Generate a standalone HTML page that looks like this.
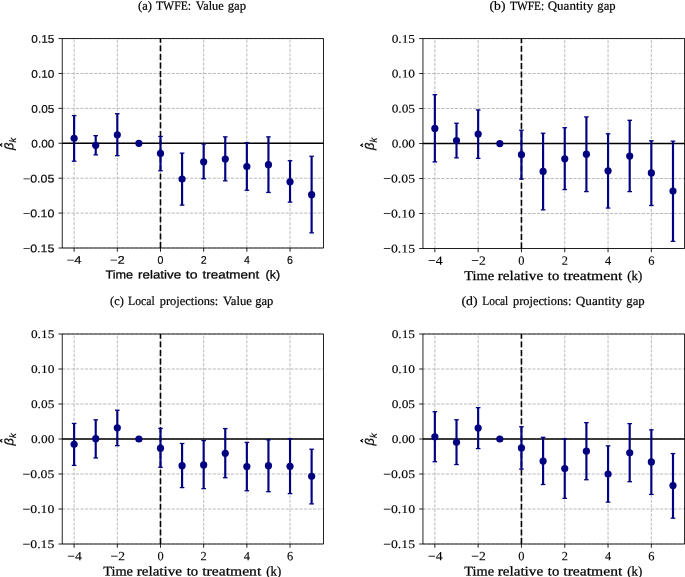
<!DOCTYPE html>
<html><head><meta charset="utf-8"><style>
html,body{margin:0;padding:0;background:#fff;overflow:hidden;width:685px;height:577px;}
svg{display:block;}
text{filter:grayscale(1);}
.grid{stroke:#b0b0b0;stroke-width:0.86;stroke-dasharray:3.18 1.38;fill:none;}
.zero{stroke:#000;stroke-width:1.6;}
.vl{stroke:#000;stroke-width:1.6;stroke-dasharray:5.97 2.58;}
.eb{stroke:#000080;stroke-width:2.16;}
.cap{stroke:#000080;stroke-width:1.3;}
.spine{fill:none;stroke:#000;stroke-width:0.86;}
.tick{stroke:#000;stroke-width:0.86;}
.tl{font-family:"Liberation Sans",sans-serif;font-size:11px;fill:#000;stroke:#000;stroke-width:0.15px;}
.ts{font-family:"Liberation Serif",serif;font-size:11.8px;fill:#000;stroke:#000;stroke-width:0.12px;}
.xls{font-size:13.3px;stroke-width:0.25px;}
.xl{font-size:11.6px;stroke-width:0.25px;}
.yl text{font-family:"Liberation Sans",sans-serif;fill:#000;stroke:#000;stroke-width:0.2px;}
.xts{font-size:12.6px;}
.title{font-family:"Liberation Serif",serif;font-size:12.5px;fill:#000;stroke:#000;stroke-width:0.2px;}
</style></head><body>
<svg width="685" height="577" viewBox="0 0 685 577">
<rect width="685" height="577" fill="#fff"/>
<line x1="74.12" y1="248" x2="74.12" y2="38.55" class="grid"/>
<line x1="117.31" y1="248" x2="117.31" y2="38.55" class="grid"/>
<line x1="160.49" y1="248" x2="160.49" y2="38.55" class="grid"/>
<line x1="203.67" y1="248" x2="203.67" y2="38.55" class="grid"/>
<line x1="246.85" y1="248" x2="246.85" y2="38.55" class="grid"/>
<line x1="290.03" y1="248" x2="290.03" y2="38.55" class="grid"/>
<line x1="62.25" y1="248" x2="323.5" y2="248" class="grid"/>
<line x1="62.25" y1="213.09" x2="323.5" y2="213.09" class="grid"/>
<line x1="62.25" y1="178.18" x2="323.5" y2="178.18" class="grid"/>
<line x1="62.25" y1="143.28" x2="323.5" y2="143.28" class="grid"/>
<line x1="62.25" y1="108.37" x2="323.5" y2="108.37" class="grid"/>
<line x1="62.25" y1="73.46" x2="323.5" y2="73.46" class="grid"/>
<line x1="62.25" y1="38.55" x2="323.5" y2="38.55" class="grid"/>
<line x1="62.25" y1="143.28" x2="323.5" y2="143.28" class="zero"/>
<line x1="160.49" y1="248" x2="160.49" y2="38.55" class="vl"/>
<line x1="74.12" y1="161.22" x2="74.12" y2="115.56" class="eb"/>
<line x1="71.83" y1="161.22" x2="76.42" y2="161.22" class="cap"/>
<line x1="71.83" y1="115.56" x2="76.42" y2="115.56" class="cap"/>
<line x1="95.72" y1="154.86" x2="95.72" y2="135.66" class="eb"/>
<line x1="93.42" y1="154.86" x2="98.02" y2="154.86" class="cap"/>
<line x1="93.42" y1="135.66" x2="98.02" y2="135.66" class="cap"/>
<line x1="117.31" y1="155.63" x2="117.31" y2="113.74" class="eb"/>
<line x1="115.01" y1="155.63" x2="119.61" y2="155.63" class="cap"/>
<line x1="115.01" y1="113.74" x2="119.61" y2="113.74" class="cap"/>
<line x1="160.49" y1="170.78" x2="160.49" y2="136.43" class="eb"/>
<line x1="158.19" y1="170.78" x2="162.79" y2="170.78" class="cap"/>
<line x1="158.19" y1="136.43" x2="162.79" y2="136.43" class="cap"/>
<line x1="182.08" y1="205.13" x2="182.08" y2="153.12" class="eb"/>
<line x1="179.78" y1="205.13" x2="184.38" y2="205.13" class="cap"/>
<line x1="179.78" y1="153.12" x2="184.38" y2="153.12" class="cap"/>
<line x1="203.67" y1="178.74" x2="203.67" y2="144.04" class="eb"/>
<line x1="201.37" y1="178.74" x2="205.97" y2="178.74" class="cap"/>
<line x1="201.37" y1="144.04" x2="205.97" y2="144.04" class="cap"/>
<line x1="225.26" y1="180.84" x2="225.26" y2="136.85" class="eb"/>
<line x1="222.96" y1="180.84" x2="227.56" y2="180.84" class="cap"/>
<line x1="222.96" y1="136.85" x2="227.56" y2="136.85" class="cap"/>
<line x1="246.85" y1="190.26" x2="246.85" y2="142.65" class="eb"/>
<line x1="244.55" y1="190.26" x2="249.15" y2="190.26" class="cap"/>
<line x1="244.55" y1="142.65" x2="249.15" y2="142.65" class="cap"/>
<line x1="268.44" y1="192.43" x2="268.44" y2="136.85" class="eb"/>
<line x1="266.14" y1="192.43" x2="270.74" y2="192.43" class="cap"/>
<line x1="266.14" y1="136.85" x2="270.74" y2="136.85" class="cap"/>
<line x1="290.03" y1="202.13" x2="290.03" y2="160.73" class="eb"/>
<line x1="287.73" y1="202.13" x2="292.33" y2="202.13" class="cap"/>
<line x1="287.73" y1="160.73" x2="292.33" y2="160.73" class="cap"/>
<line x1="311.62" y1="232.85" x2="311.62" y2="156.26" class="eb"/>
<line x1="309.32" y1="232.85" x2="313.93" y2="232.85" class="cap"/>
<line x1="309.32" y1="156.26" x2="313.93" y2="156.26" class="cap"/>
<circle cx="74.12" cy="138.25" r="3.6" fill="#000080"/>
<circle cx="95.72" cy="145.3" r="3.6" fill="#000080"/>
<circle cx="117.31" cy="134.76" r="3.6" fill="#000080"/>
<circle cx="138.9" cy="143.28" r="3.6" fill="#000080"/>
<circle cx="160.49" cy="153.47" r="3.6" fill="#000080"/>
<circle cx="182.08" cy="179.02" r="3.6" fill="#000080"/>
<circle cx="203.67" cy="161.78" r="3.6" fill="#000080"/>
<circle cx="225.26" cy="158.98" r="3.6" fill="#000080"/>
<circle cx="246.85" cy="166.52" r="3.6" fill="#000080"/>
<circle cx="268.44" cy="164.71" r="3.6" fill="#000080"/>
<circle cx="290.03" cy="181.74" r="3.6" fill="#000080"/>
<circle cx="311.62" cy="194.66" r="3.6" fill="#000080"/>
<path d="M62.25,38.55H323.5M62.25,248H323.5M62.25,38.55V248M323.5,38.55V248" class="spine"/>
<line x1="74.12" y1="248" x2="74.12" y2="251.76" class="tick"/>
<text x="74.12" y="263.8" text-anchor="middle" class="tl" textLength="14.8" lengthAdjust="spacingAndGlyphs" transform="rotate(0.03 74.12 263.8)">−4</text>
<line x1="117.31" y1="248" x2="117.31" y2="251.76" class="tick"/>
<text x="117.31" y="263.8" text-anchor="middle" class="tl" textLength="14.8" lengthAdjust="spacingAndGlyphs" transform="rotate(0.03 117.31 263.8)">−2</text>
<line x1="160.49" y1="248" x2="160.49" y2="251.76" class="tick"/>
<text x="160.49" y="263.8" text-anchor="middle" class="tl" textLength="5.9" lengthAdjust="spacingAndGlyphs" transform="rotate(0.03 160.49 263.8)">0</text>
<line x1="203.67" y1="248" x2="203.67" y2="251.76" class="tick"/>
<text x="203.67" y="263.8" text-anchor="middle" class="tl" textLength="5.9" lengthAdjust="spacingAndGlyphs" transform="rotate(0.03 203.67 263.8)">2</text>
<line x1="246.85" y1="248" x2="246.85" y2="251.76" class="tick"/>
<text x="246.85" y="263.8" text-anchor="middle" class="tl" textLength="5.9" lengthAdjust="spacingAndGlyphs" transform="rotate(0.03 246.85 263.8)">4</text>
<line x1="290.03" y1="248" x2="290.03" y2="251.76" class="tick"/>
<text x="290.03" y="263.8" text-anchor="middle" class="tl" textLength="5.9" lengthAdjust="spacingAndGlyphs" transform="rotate(0.03 290.03 263.8)">6</text>
<line x1="58.49" y1="248" x2="62.25" y2="248" class="tick"/>
<text x="54.35" y="252.3" text-anchor="end" class="tl" textLength="31.4" lengthAdjust="spacingAndGlyphs" transform="rotate(0.03 54.35 252.3)">−0.15</text>
<line x1="58.49" y1="213.09" x2="62.25" y2="213.09" class="tick"/>
<text x="54.35" y="217.39" text-anchor="end" class="tl" textLength="31.4" lengthAdjust="spacingAndGlyphs" transform="rotate(0.03 54.35 217.39)">−0.10</text>
<line x1="58.49" y1="178.18" x2="62.25" y2="178.18" class="tick"/>
<text x="54.35" y="182.48" text-anchor="end" class="tl" textLength="31.4" lengthAdjust="spacingAndGlyphs" transform="rotate(0.03 54.35 182.48)">−0.05</text>
<line x1="58.49" y1="143.28" x2="62.25" y2="143.28" class="tick"/>
<text x="54.35" y="147.58" text-anchor="end" class="tl" textLength="23" lengthAdjust="spacingAndGlyphs" transform="rotate(0.03 54.35 147.58)">0.00</text>
<line x1="58.49" y1="108.37" x2="62.25" y2="108.37" class="tick"/>
<text x="54.35" y="112.67" text-anchor="end" class="tl" textLength="23" lengthAdjust="spacingAndGlyphs" transform="rotate(0.03 54.35 112.67)">0.05</text>
<line x1="58.49" y1="73.46" x2="62.25" y2="73.46" class="tick"/>
<text x="54.35" y="77.76" text-anchor="end" class="tl" textLength="23" lengthAdjust="spacingAndGlyphs" transform="rotate(0.03 54.35 77.76)">0.10</text>
<line x1="58.49" y1="38.55" x2="62.25" y2="38.55" class="tick"/>
<text x="54.35" y="42.85" text-anchor="end" class="tl" textLength="23" lengthAdjust="spacingAndGlyphs" transform="rotate(0.03 54.35 42.85)">0.15</text>
<text x="105.47" y="278.6" class="tl xl" textLength="27.7" lengthAdjust="spacingAndGlyphs" transform="rotate(0.03 105.47 278.6)">Time</text>
<text x="138.07" y="278.6" class="tl xl" textLength="43" lengthAdjust="spacingAndGlyphs" transform="rotate(0.03 138.07 278.6)">relative</text>
<text x="185.88" y="278.6" class="tl xl" textLength="11.7" lengthAdjust="spacingAndGlyphs" transform="rotate(0.03 185.88 278.6)">to</text>
<text x="202.47" y="278.6" class="tl xl" textLength="56.8" lengthAdjust="spacingAndGlyphs" transform="rotate(0.03 202.47 278.6)">treatment</text>
<text x="265.57" y="278.6" class="tl xl" textLength="14.6" lengthAdjust="spacingAndGlyphs" transform="rotate(0.03 265.57 278.6)">(k)</text>
<g transform="translate(13.15,149.88) rotate(-89.97)" class="yl"><text x="0" y="0" style="font-size:12.4px;font-style:italic" textLength="7.4" lengthAdjust="spacingAndGlyphs">β</text><text x="7.5" y="2.9" style="font-size:9.6px;font-style:italic">k</text></g>
<path d="M2.25,146.47 L0.15,144.97 L2.25,143.47" fill="none" stroke="#000" stroke-width="1.15"/>
<text x="138.07" y="9.65" class="title" textLength="14" lengthAdjust="spacingAndGlyphs" transform="rotate(0.03 138.07 9.65)">(a)</text>
<text x="155.97" y="9.65" class="title" textLength="35.1" lengthAdjust="spacingAndGlyphs" transform="rotate(0.03 155.97 9.65)">TWFE:</text>
<text x="195.68" y="9.65" class="title" textLength="28" lengthAdjust="spacingAndGlyphs" transform="rotate(0.03 195.68 9.65)">Value</text>
<text x="227.68" y="9.65" class="title" textLength="18.4" lengthAdjust="spacingAndGlyphs" transform="rotate(0.03 227.68 9.65)">gap</text>
<line x1="434.86" y1="248.5" x2="434.86" y2="38.55" class="grid"/>
<line x1="478.15" y1="248.5" x2="478.15" y2="38.55" class="grid"/>
<line x1="521.45" y1="248.5" x2="521.45" y2="38.55" class="grid"/>
<line x1="564.75" y1="248.5" x2="564.75" y2="38.55" class="grid"/>
<line x1="608.05" y1="248.5" x2="608.05" y2="38.55" class="grid"/>
<line x1="651.34" y1="248.5" x2="651.34" y2="38.55" class="grid"/>
<line x1="422.95" y1="248.5" x2="684.9" y2="248.5" class="grid"/>
<line x1="422.95" y1="213.51" x2="684.9" y2="213.51" class="grid"/>
<line x1="422.95" y1="178.52" x2="684.9" y2="178.52" class="grid"/>
<line x1="422.95" y1="143.53" x2="684.9" y2="143.53" class="grid"/>
<line x1="422.95" y1="108.53" x2="684.9" y2="108.53" class="grid"/>
<line x1="422.95" y1="73.54" x2="684.9" y2="73.54" class="grid"/>
<line x1="422.95" y1="38.55" x2="684.9" y2="38.55" class="grid"/>
<line x1="422.95" y1="143.53" x2="684.9" y2="143.53" class="zero"/>
<line x1="521.45" y1="248.5" x2="521.45" y2="38.55" class="vl"/>
<line x1="434.86" y1="161.93" x2="434.86" y2="94.68" class="eb"/>
<line x1="432.56" y1="161.93" x2="437.16" y2="161.93" class="cap"/>
<line x1="432.56" y1="94.68" x2="437.16" y2="94.68" class="cap"/>
<line x1="456.51" y1="157.87" x2="456.51" y2="123.23" class="eb"/>
<line x1="454.21" y1="157.87" x2="458.81" y2="157.87" class="cap"/>
<line x1="454.21" y1="123.23" x2="458.81" y2="123.23" class="cap"/>
<line x1="478.15" y1="158.36" x2="478.15" y2="109.93" class="eb"/>
<line x1="475.85" y1="158.36" x2="480.45" y2="158.36" class="cap"/>
<line x1="475.85" y1="109.93" x2="480.45" y2="109.93" class="cap"/>
<line x1="521.45" y1="179.01" x2="521.45" y2="130.23" class="eb"/>
<line x1="519.15" y1="179.01" x2="523.75" y2="179.01" class="cap"/>
<line x1="519.15" y1="130.23" x2="523.75" y2="130.23" class="cap"/>
<line x1="543.1" y1="209.87" x2="543.1" y2="133.24" class="eb"/>
<line x1="540.8" y1="209.87" x2="545.4" y2="209.87" class="cap"/>
<line x1="540.8" y1="133.24" x2="545.4" y2="133.24" class="cap"/>
<line x1="564.75" y1="189.57" x2="564.75" y2="127.71" class="eb"/>
<line x1="562.45" y1="189.57" x2="567.05" y2="189.57" class="cap"/>
<line x1="562.45" y1="127.71" x2="567.05" y2="127.71" class="cap"/>
<line x1="586.4" y1="191.6" x2="586.4" y2="116.93" class="eb"/>
<line x1="584.1" y1="191.6" x2="588.7" y2="191.6" class="cap"/>
<line x1="584.1" y1="116.93" x2="588.7" y2="116.93" class="cap"/>
<line x1="608.05" y1="208.05" x2="608.05" y2="133.8" class="eb"/>
<line x1="605.75" y1="208.05" x2="610.35" y2="208.05" class="cap"/>
<line x1="605.75" y1="133.8" x2="610.35" y2="133.8" class="cap"/>
<line x1="629.7" y1="191.6" x2="629.7" y2="120.29" class="eb"/>
<line x1="627.4" y1="191.6" x2="632" y2="191.6" class="cap"/>
<line x1="627.4" y1="120.29" x2="632" y2="120.29" class="cap"/>
<line x1="651.34" y1="205.46" x2="651.34" y2="140.8" class="eb"/>
<line x1="649.04" y1="205.46" x2="653.64" y2="205.46" class="cap"/>
<line x1="649.04" y1="140.8" x2="653.64" y2="140.8" class="cap"/>
<line x1="672.99" y1="241.36" x2="672.99" y2="141.15" class="eb"/>
<line x1="670.69" y1="241.36" x2="675.29" y2="241.36" class="cap"/>
<line x1="670.69" y1="141.15" x2="675.29" y2="141.15" class="cap"/>
<circle cx="434.86" cy="128.41" r="3.6" fill="#000080"/>
<circle cx="456.51" cy="140.52" r="3.6" fill="#000080"/>
<circle cx="478.15" cy="134.08" r="3.6" fill="#000080"/>
<circle cx="499.8" cy="143.53" r="3.6" fill="#000080"/>
<circle cx="521.45" cy="154.65" r="3.6" fill="#000080"/>
<circle cx="543.1" cy="171.45" r="3.6" fill="#000080"/>
<circle cx="564.75" cy="158.78" r="3.6" fill="#000080"/>
<circle cx="586.4" cy="154.16" r="3.6" fill="#000080"/>
<circle cx="608.05" cy="170.82" r="3.6" fill="#000080"/>
<circle cx="629.7" cy="155.98" r="3.6" fill="#000080"/>
<circle cx="651.34" cy="172.92" r="3.6" fill="#000080"/>
<circle cx="672.99" cy="191.11" r="3.6" fill="#000080"/>
<path d="M422.95,38.55H684.55M422.95,248.5H684.55M422.95,38.55V248.5M684.55,38.55V248.5" class="spine"/>
<line x1="434.86" y1="248.5" x2="434.86" y2="252.26" class="tick"/>
<text x="435.26" y="264.7" text-anchor="middle" class="ts xts" textLength="14.5" lengthAdjust="spacingAndGlyphs" transform="rotate(0.03 435.26 264.7)">−4</text>
<line x1="478.15" y1="248.5" x2="478.15" y2="252.26" class="tick"/>
<text x="478.55" y="264.7" text-anchor="middle" class="ts xts" textLength="14.5" lengthAdjust="spacingAndGlyphs" transform="rotate(0.03 478.55 264.7)">−2</text>
<line x1="521.45" y1="248.5" x2="521.45" y2="252.26" class="tick"/>
<text x="521.45" y="264.7" text-anchor="middle" class="ts xts" textLength="6.2" lengthAdjust="spacingAndGlyphs" transform="rotate(0.03 521.45 264.7)">0</text>
<line x1="564.75" y1="248.5" x2="564.75" y2="252.26" class="tick"/>
<text x="564.75" y="264.7" text-anchor="middle" class="ts xts" textLength="6.2" lengthAdjust="spacingAndGlyphs" transform="rotate(0.03 564.75 264.7)">2</text>
<line x1="608.05" y1="248.5" x2="608.05" y2="252.26" class="tick"/>
<text x="608.05" y="264.7" text-anchor="middle" class="ts xts" textLength="6.2" lengthAdjust="spacingAndGlyphs" transform="rotate(0.03 608.05 264.7)">4</text>
<line x1="651.34" y1="248.5" x2="651.34" y2="252.26" class="tick"/>
<text x="651.34" y="264.7" text-anchor="middle" class="ts xts" textLength="6.2" lengthAdjust="spacingAndGlyphs" transform="rotate(0.03 651.34 264.7)">6</text>
<line x1="419.19" y1="248.5" x2="422.95" y2="248.5" class="tick"/>
<text x="415.05" y="252.6" text-anchor="end" class="ts" textLength="31.8" lengthAdjust="spacingAndGlyphs" transform="rotate(0.03 415.05 252.6)">−0.15</text>
<line x1="419.19" y1="213.51" x2="422.95" y2="213.51" class="tick"/>
<text x="415.05" y="217.61" text-anchor="end" class="ts" textLength="31.8" lengthAdjust="spacingAndGlyphs" transform="rotate(0.03 415.05 217.61)">−0.10</text>
<line x1="419.19" y1="178.52" x2="422.95" y2="178.52" class="tick"/>
<text x="415.05" y="182.62" text-anchor="end" class="ts" textLength="31.8" lengthAdjust="spacingAndGlyphs" transform="rotate(0.03 415.05 182.62)">−0.05</text>
<line x1="419.19" y1="143.53" x2="422.95" y2="143.53" class="tick"/>
<text x="415.05" y="147.62" text-anchor="end" class="ts" textLength="23.4" lengthAdjust="spacingAndGlyphs" transform="rotate(0.03 415.05 147.62)">0.00</text>
<line x1="419.19" y1="108.53" x2="422.95" y2="108.53" class="tick"/>
<text x="415.05" y="112.63" text-anchor="end" class="ts" textLength="23.4" lengthAdjust="spacingAndGlyphs" transform="rotate(0.03 415.05 112.63)">0.05</text>
<line x1="419.19" y1="73.54" x2="422.95" y2="73.54" class="tick"/>
<text x="415.05" y="77.64" text-anchor="end" class="ts" textLength="23.4" lengthAdjust="spacingAndGlyphs" transform="rotate(0.03 415.05 77.64)">0.10</text>
<line x1="419.19" y1="38.55" x2="422.95" y2="38.55" class="tick"/>
<text x="415.05" y="42.65" text-anchor="end" class="ts" textLength="23.4" lengthAdjust="spacingAndGlyphs" transform="rotate(0.03 415.05 42.65)">0.15</text>
<text x="464.22" y="279.95" class="ts xls" textLength="29.8" lengthAdjust="spacingAndGlyphs" transform="rotate(0.03 464.22 279.95)">Time</text>
<text x="497.72" y="279.95" class="ts xls" textLength="45.4" lengthAdjust="spacingAndGlyphs" transform="rotate(0.03 497.72 279.95)">relative</text>
<text x="547.82" y="279.95" class="ts xls" textLength="11.4" lengthAdjust="spacingAndGlyphs" transform="rotate(0.03 547.82 279.95)">to</text>
<text x="563.32" y="279.95" class="ts xls" textLength="59" lengthAdjust="spacingAndGlyphs" transform="rotate(0.03 563.32 279.95)">treatment</text>
<text x="627.32" y="279.95" class="ts xls" textLength="14.9" lengthAdjust="spacingAndGlyphs" transform="rotate(0.03 627.32 279.95)">(k)</text>
<g transform="translate(373.85,150.12) rotate(-89.97)" class="yl"><text x="0" y="0" style="font-size:12.4px;font-style:italic" textLength="7.4" lengthAdjust="spacingAndGlyphs">β</text><text x="7.5" y="2.9" style="font-size:9.6px;font-style:italic">k</text></g>
<path d="M362.95,146.72 L360.85,145.22 L362.95,143.72" fill="none" stroke="#000" stroke-width="1.15"/>
<text x="489.62" y="9.65" class="title" textLength="15.8" lengthAdjust="spacingAndGlyphs" transform="rotate(0.03 489.62 9.65)">(b)</text>
<text x="510.02" y="9.65" class="title" textLength="34.2" lengthAdjust="spacingAndGlyphs" transform="rotate(0.03 510.02 9.65)">TWFE:</text>
<text x="547.72" y="9.65" class="title" textLength="45.5" lengthAdjust="spacingAndGlyphs" transform="rotate(0.03 547.72 9.65)">Quantity</text>
<text x="597.32" y="9.65" class="title" textLength="18.3" lengthAdjust="spacingAndGlyphs" transform="rotate(0.03 597.32 9.65)">gap</text>
<line x1="74.12" y1="544" x2="74.12" y2="334" class="grid"/>
<line x1="117.31" y1="544" x2="117.31" y2="334" class="grid"/>
<line x1="160.49" y1="544" x2="160.49" y2="334" class="grid"/>
<line x1="203.67" y1="544" x2="203.67" y2="334" class="grid"/>
<line x1="246.85" y1="544" x2="246.85" y2="334" class="grid"/>
<line x1="290.03" y1="544" x2="290.03" y2="334" class="grid"/>
<line x1="62.25" y1="544" x2="323.5" y2="544" class="grid"/>
<line x1="62.25" y1="509" x2="323.5" y2="509" class="grid"/>
<line x1="62.25" y1="474" x2="323.5" y2="474" class="grid"/>
<line x1="62.25" y1="439" x2="323.5" y2="439" class="grid"/>
<line x1="62.25" y1="404" x2="323.5" y2="404" class="grid"/>
<line x1="62.25" y1="369" x2="323.5" y2="369" class="grid"/>
<line x1="62.25" y1="334" x2="323.5" y2="334" class="grid"/>
<line x1="62.25" y1="439" x2="323.5" y2="439" class="zero"/>
<line x1="160.49" y1="544" x2="160.49" y2="334" class="vl"/>
<line x1="74.12" y1="465.39" x2="74.12" y2="423.46" class="eb"/>
<line x1="71.83" y1="465.39" x2="76.42" y2="465.39" class="cap"/>
<line x1="71.83" y1="423.46" x2="76.42" y2="423.46" class="cap"/>
<line x1="95.72" y1="457.97" x2="95.72" y2="419.82" class="eb"/>
<line x1="93.42" y1="457.97" x2="98.02" y2="457.97" class="cap"/>
<line x1="93.42" y1="419.82" x2="98.02" y2="419.82" class="cap"/>
<line x1="117.31" y1="445.65" x2="117.31" y2="410.23" class="eb"/>
<line x1="115.01" y1="445.65" x2="119.61" y2="445.65" class="cap"/>
<line x1="115.01" y1="410.23" x2="119.61" y2="410.23" class="cap"/>
<line x1="160.49" y1="467.28" x2="160.49" y2="428.43" class="eb"/>
<line x1="158.19" y1="467.28" x2="162.79" y2="467.28" class="cap"/>
<line x1="158.19" y1="428.43" x2="162.79" y2="428.43" class="cap"/>
<line x1="182.08" y1="487.58" x2="182.08" y2="443.48" class="eb"/>
<line x1="179.78" y1="487.58" x2="184.38" y2="487.58" class="cap"/>
<line x1="179.78" y1="443.48" x2="184.38" y2="443.48" class="cap"/>
<line x1="203.67" y1="488.63" x2="203.67" y2="440.54" class="eb"/>
<line x1="201.37" y1="488.63" x2="205.97" y2="488.63" class="cap"/>
<line x1="201.37" y1="440.54" x2="205.97" y2="440.54" class="cap"/>
<line x1="225.26" y1="477.71" x2="225.26" y2="428.57" class="eb"/>
<line x1="222.96" y1="477.71" x2="227.56" y2="477.71" class="cap"/>
<line x1="222.96" y1="428.57" x2="227.56" y2="428.57" class="cap"/>
<line x1="246.85" y1="490.73" x2="246.85" y2="442.43" class="eb"/>
<line x1="244.55" y1="490.73" x2="249.15" y2="490.73" class="cap"/>
<line x1="244.55" y1="442.43" x2="249.15" y2="442.43" class="cap"/>
<line x1="268.44" y1="491.71" x2="268.44" y2="439.84" class="eb"/>
<line x1="266.14" y1="491.71" x2="270.74" y2="491.71" class="cap"/>
<line x1="266.14" y1="439.84" x2="270.74" y2="439.84" class="cap"/>
<line x1="290.03" y1="493.6" x2="290.03" y2="438.79" class="eb"/>
<line x1="287.73" y1="493.6" x2="292.33" y2="493.6" class="cap"/>
<line x1="287.73" y1="438.79" x2="292.33" y2="438.79" class="cap"/>
<line x1="311.62" y1="503.89" x2="311.62" y2="449.22" class="eb"/>
<line x1="309.32" y1="503.89" x2="313.93" y2="503.89" class="cap"/>
<line x1="309.32" y1="449.22" x2="313.93" y2="449.22" class="cap"/>
<circle cx="74.12" cy="444.25" r="3.6" fill="#000080"/>
<circle cx="95.72" cy="438.65" r="3.6" fill="#000080"/>
<circle cx="117.31" cy="427.8" r="3.6" fill="#000080"/>
<circle cx="138.9" cy="439" r="3.6" fill="#000080"/>
<circle cx="160.49" cy="448.17" r="3.6" fill="#000080"/>
<circle cx="182.08" cy="465.67" r="3.6" fill="#000080"/>
<circle cx="203.67" cy="464.9" r="3.6" fill="#000080"/>
<circle cx="225.26" cy="453.28" r="3.6" fill="#000080"/>
<circle cx="246.85" cy="466.58" r="3.6" fill="#000080"/>
<circle cx="268.44" cy="465.67" r="3.6" fill="#000080"/>
<circle cx="290.03" cy="466.23" r="3.6" fill="#000080"/>
<circle cx="311.62" cy="476.31" r="3.6" fill="#000080"/>
<path d="M62.25,334H323.5M62.25,544H323.5M62.25,334V544M323.5,334V544" class="spine"/>
<line x1="74.12" y1="544" x2="74.12" y2="547.76" class="tick"/>
<text x="74.53" y="560.2" text-anchor="middle" class="ts xts" textLength="14.5" lengthAdjust="spacingAndGlyphs" transform="rotate(0.03 74.53 560.2)">−4</text>
<line x1="117.31" y1="544" x2="117.31" y2="547.76" class="tick"/>
<text x="117.71" y="560.2" text-anchor="middle" class="ts xts" textLength="14.5" lengthAdjust="spacingAndGlyphs" transform="rotate(0.03 117.71 560.2)">−2</text>
<line x1="160.49" y1="544" x2="160.49" y2="547.76" class="tick"/>
<text x="160.49" y="560.2" text-anchor="middle" class="ts xts" textLength="6.2" lengthAdjust="spacingAndGlyphs" transform="rotate(0.03 160.49 560.2)">0</text>
<line x1="203.67" y1="544" x2="203.67" y2="547.76" class="tick"/>
<text x="203.67" y="560.2" text-anchor="middle" class="ts xts" textLength="6.2" lengthAdjust="spacingAndGlyphs" transform="rotate(0.03 203.67 560.2)">2</text>
<line x1="246.85" y1="544" x2="246.85" y2="547.76" class="tick"/>
<text x="246.85" y="560.2" text-anchor="middle" class="ts xts" textLength="6.2" lengthAdjust="spacingAndGlyphs" transform="rotate(0.03 246.85 560.2)">4</text>
<line x1="290.03" y1="544" x2="290.03" y2="547.76" class="tick"/>
<text x="290.03" y="560.2" text-anchor="middle" class="ts xts" textLength="6.2" lengthAdjust="spacingAndGlyphs" transform="rotate(0.03 290.03 560.2)">6</text>
<line x1="58.49" y1="544" x2="62.25" y2="544" class="tick"/>
<text x="54.35" y="548.1" text-anchor="end" class="ts" textLength="31.8" lengthAdjust="spacingAndGlyphs" transform="rotate(0.03 54.35 548.1)">−0.15</text>
<line x1="58.49" y1="509" x2="62.25" y2="509" class="tick"/>
<text x="54.35" y="513.1" text-anchor="end" class="ts" textLength="31.8" lengthAdjust="spacingAndGlyphs" transform="rotate(0.03 54.35 513.1)">−0.10</text>
<line x1="58.49" y1="474" x2="62.25" y2="474" class="tick"/>
<text x="54.35" y="478.1" text-anchor="end" class="ts" textLength="31.8" lengthAdjust="spacingAndGlyphs" transform="rotate(0.03 54.35 478.1)">−0.05</text>
<line x1="58.49" y1="439" x2="62.25" y2="439" class="tick"/>
<text x="54.35" y="443.1" text-anchor="end" class="ts" textLength="23.4" lengthAdjust="spacingAndGlyphs" transform="rotate(0.03 54.35 443.1)">0.00</text>
<line x1="58.49" y1="404" x2="62.25" y2="404" class="tick"/>
<text x="54.35" y="408.1" text-anchor="end" class="ts" textLength="23.4" lengthAdjust="spacingAndGlyphs" transform="rotate(0.03 54.35 408.1)">0.05</text>
<line x1="58.49" y1="369" x2="62.25" y2="369" class="tick"/>
<text x="54.35" y="373.1" text-anchor="end" class="ts" textLength="23.4" lengthAdjust="spacingAndGlyphs" transform="rotate(0.03 54.35 373.1)">0.10</text>
<line x1="58.49" y1="334" x2="62.25" y2="334" class="tick"/>
<text x="54.35" y="338.1" text-anchor="end" class="ts" textLength="23.4" lengthAdjust="spacingAndGlyphs" transform="rotate(0.03 54.35 338.1)">0.15</text>
<text x="103.17" y="575.45" class="ts xls" textLength="29.8" lengthAdjust="spacingAndGlyphs" transform="rotate(0.03 103.17 575.45)">Time</text>
<text x="136.68" y="575.45" class="ts xls" textLength="45.4" lengthAdjust="spacingAndGlyphs" transform="rotate(0.03 136.68 575.45)">relative</text>
<text x="186.78" y="575.45" class="ts xls" textLength="11.4" lengthAdjust="spacingAndGlyphs" transform="rotate(0.03 186.78 575.45)">to</text>
<text x="202.28" y="575.45" class="ts xls" textLength="59" lengthAdjust="spacingAndGlyphs" transform="rotate(0.03 202.28 575.45)">treatment</text>
<text x="266.27" y="575.45" class="ts xls" textLength="14.9" lengthAdjust="spacingAndGlyphs" transform="rotate(0.03 266.27 575.45)">(k)</text>
<g transform="translate(13.15,445.6) rotate(-89.97)" class="yl"><text x="0" y="0" style="font-size:12.4px;font-style:italic" textLength="7.4" lengthAdjust="spacingAndGlyphs">β</text><text x="7.5" y="2.9" style="font-size:9.6px;font-style:italic">k</text></g>
<path d="M2.25,442.2 L0.15,440.7 L2.25,439.2" fill="none" stroke="#000" stroke-width="1.15"/>
<text x="110.08" y="305.1" class="title" textLength="13.7" lengthAdjust="spacingAndGlyphs" transform="rotate(0.03 110.08 305.1)">(c)</text>
<text x="128.07" y="305.1" class="title" textLength="26.7" lengthAdjust="spacingAndGlyphs" transform="rotate(0.03 128.07 305.1)">Local</text>
<text x="159.68" y="305.1" class="title" textLength="58.6" lengthAdjust="spacingAndGlyphs" transform="rotate(0.03 159.68 305.1)">projections:</text>
<text x="223.07" y="305.1" class="title" textLength="28.9" lengthAdjust="spacingAndGlyphs" transform="rotate(0.03 223.07 305.1)">Value</text>
<text x="255.28" y="305.1" class="title" textLength="18.1" lengthAdjust="spacingAndGlyphs" transform="rotate(0.03 255.28 305.1)">gap</text>
<line x1="434.86" y1="544" x2="434.86" y2="334" class="grid"/>
<line x1="478.15" y1="544" x2="478.15" y2="334" class="grid"/>
<line x1="521.45" y1="544" x2="521.45" y2="334" class="grid"/>
<line x1="564.75" y1="544" x2="564.75" y2="334" class="grid"/>
<line x1="608.05" y1="544" x2="608.05" y2="334" class="grid"/>
<line x1="651.34" y1="544" x2="651.34" y2="334" class="grid"/>
<line x1="422.95" y1="544" x2="684.9" y2="544" class="grid"/>
<line x1="422.95" y1="509" x2="684.9" y2="509" class="grid"/>
<line x1="422.95" y1="474" x2="684.9" y2="474" class="grid"/>
<line x1="422.95" y1="439" x2="684.9" y2="439" class="grid"/>
<line x1="422.95" y1="404" x2="684.9" y2="404" class="grid"/>
<line x1="422.95" y1="369" x2="684.9" y2="369" class="grid"/>
<line x1="422.95" y1="334" x2="684.9" y2="334" class="grid"/>
<line x1="422.95" y1="439" x2="684.9" y2="439" class="zero"/>
<line x1="521.45" y1="544" x2="521.45" y2="334" class="vl"/>
<line x1="434.86" y1="461.75" x2="434.86" y2="411.7" class="eb"/>
<line x1="432.56" y1="461.75" x2="437.16" y2="461.75" class="cap"/>
<line x1="432.56" y1="411.7" x2="437.16" y2="411.7" class="cap"/>
<line x1="456.51" y1="464.55" x2="456.51" y2="419.75" class="eb"/>
<line x1="454.21" y1="464.55" x2="458.81" y2="464.55" class="cap"/>
<line x1="454.21" y1="419.75" x2="458.81" y2="419.75" class="cap"/>
<line x1="478.15" y1="448.59" x2="478.15" y2="407.64" class="eb"/>
<line x1="475.85" y1="448.59" x2="480.45" y2="448.59" class="cap"/>
<line x1="475.85" y1="407.64" x2="480.45" y2="407.64" class="cap"/>
<line x1="521.45" y1="469.1" x2="521.45" y2="426.75" class="eb"/>
<line x1="519.15" y1="469.1" x2="523.75" y2="469.1" class="cap"/>
<line x1="519.15" y1="426.75" x2="523.75" y2="426.75" class="cap"/>
<line x1="543.1" y1="484.5" x2="543.1" y2="437.32" class="eb"/>
<line x1="540.8" y1="484.5" x2="545.4" y2="484.5" class="cap"/>
<line x1="540.8" y1="437.32" x2="545.4" y2="437.32" class="cap"/>
<line x1="564.75" y1="498.36" x2="564.75" y2="438.86" class="eb"/>
<line x1="562.45" y1="498.36" x2="567.05" y2="498.36" class="cap"/>
<line x1="562.45" y1="438.86" x2="567.05" y2="438.86" class="cap"/>
<line x1="586.4" y1="479.74" x2="586.4" y2="422.62" class="eb"/>
<line x1="584.1" y1="479.74" x2="588.7" y2="479.74" class="cap"/>
<line x1="584.1" y1="422.62" x2="588.7" y2="422.62" class="cap"/>
<line x1="608.05" y1="502.14" x2="608.05" y2="445.86" class="eb"/>
<line x1="605.75" y1="502.14" x2="610.35" y2="502.14" class="cap"/>
<line x1="605.75" y1="445.86" x2="610.35" y2="445.86" class="cap"/>
<line x1="629.7" y1="481.7" x2="629.7" y2="423.6" class="eb"/>
<line x1="627.4" y1="481.7" x2="632" y2="481.7" class="cap"/>
<line x1="627.4" y1="423.6" x2="632" y2="423.6" class="cap"/>
<line x1="651.34" y1="494.44" x2="651.34" y2="429.83" class="eb"/>
<line x1="649.04" y1="494.44" x2="653.64" y2="494.44" class="cap"/>
<line x1="649.04" y1="429.83" x2="653.64" y2="429.83" class="cap"/>
<line x1="672.99" y1="518.17" x2="672.99" y2="453.56" class="eb"/>
<line x1="670.69" y1="518.17" x2="675.29" y2="518.17" class="cap"/>
<line x1="670.69" y1="453.56" x2="675.29" y2="453.56" class="cap"/>
<circle cx="434.86" cy="436.76" r="3.6" fill="#000080"/>
<circle cx="456.51" cy="442.36" r="3.6" fill="#000080"/>
<circle cx="478.15" cy="428.01" r="3.6" fill="#000080"/>
<circle cx="499.8" cy="439" r="3.6" fill="#000080"/>
<circle cx="521.45" cy="447.96" r="3.6" fill="#000080"/>
<circle cx="543.1" cy="461.05" r="3.6" fill="#000080"/>
<circle cx="564.75" cy="468.54" r="3.6" fill="#000080"/>
<circle cx="586.4" cy="451.18" r="3.6" fill="#000080"/>
<circle cx="608.05" cy="474" r="3.6" fill="#000080"/>
<circle cx="629.7" cy="452.79" r="3.6" fill="#000080"/>
<circle cx="651.34" cy="461.89" r="3.6" fill="#000080"/>
<circle cx="672.99" cy="485.62" r="3.6" fill="#000080"/>
<path d="M422.95,334H684.55M422.95,544H684.55M422.95,334V544M684.55,334V544" class="spine"/>
<line x1="434.86" y1="544" x2="434.86" y2="547.76" class="tick"/>
<text x="435.26" y="560.2" text-anchor="middle" class="ts xts" textLength="14.5" lengthAdjust="spacingAndGlyphs" transform="rotate(0.03 435.26 560.2)">−4</text>
<line x1="478.15" y1="544" x2="478.15" y2="547.76" class="tick"/>
<text x="478.55" y="560.2" text-anchor="middle" class="ts xts" textLength="14.5" lengthAdjust="spacingAndGlyphs" transform="rotate(0.03 478.55 560.2)">−2</text>
<line x1="521.45" y1="544" x2="521.45" y2="547.76" class="tick"/>
<text x="521.45" y="560.2" text-anchor="middle" class="ts xts" textLength="6.2" lengthAdjust="spacingAndGlyphs" transform="rotate(0.03 521.45 560.2)">0</text>
<line x1="564.75" y1="544" x2="564.75" y2="547.76" class="tick"/>
<text x="564.75" y="560.2" text-anchor="middle" class="ts xts" textLength="6.2" lengthAdjust="spacingAndGlyphs" transform="rotate(0.03 564.75 560.2)">2</text>
<line x1="608.05" y1="544" x2="608.05" y2="547.76" class="tick"/>
<text x="608.05" y="560.2" text-anchor="middle" class="ts xts" textLength="6.2" lengthAdjust="spacingAndGlyphs" transform="rotate(0.03 608.05 560.2)">4</text>
<line x1="651.34" y1="544" x2="651.34" y2="547.76" class="tick"/>
<text x="651.34" y="560.2" text-anchor="middle" class="ts xts" textLength="6.2" lengthAdjust="spacingAndGlyphs" transform="rotate(0.03 651.34 560.2)">6</text>
<line x1="419.19" y1="544" x2="422.95" y2="544" class="tick"/>
<text x="415.05" y="548.1" text-anchor="end" class="ts" textLength="31.8" lengthAdjust="spacingAndGlyphs" transform="rotate(0.03 415.05 548.1)">−0.15</text>
<line x1="419.19" y1="509" x2="422.95" y2="509" class="tick"/>
<text x="415.05" y="513.1" text-anchor="end" class="ts" textLength="31.8" lengthAdjust="spacingAndGlyphs" transform="rotate(0.03 415.05 513.1)">−0.10</text>
<line x1="419.19" y1="474" x2="422.95" y2="474" class="tick"/>
<text x="415.05" y="478.1" text-anchor="end" class="ts" textLength="31.8" lengthAdjust="spacingAndGlyphs" transform="rotate(0.03 415.05 478.1)">−0.05</text>
<line x1="419.19" y1="439" x2="422.95" y2="439" class="tick"/>
<text x="415.05" y="443.1" text-anchor="end" class="ts" textLength="23.4" lengthAdjust="spacingAndGlyphs" transform="rotate(0.03 415.05 443.1)">0.00</text>
<line x1="419.19" y1="404" x2="422.95" y2="404" class="tick"/>
<text x="415.05" y="408.1" text-anchor="end" class="ts" textLength="23.4" lengthAdjust="spacingAndGlyphs" transform="rotate(0.03 415.05 408.1)">0.05</text>
<line x1="419.19" y1="369" x2="422.95" y2="369" class="tick"/>
<text x="415.05" y="373.1" text-anchor="end" class="ts" textLength="23.4" lengthAdjust="spacingAndGlyphs" transform="rotate(0.03 415.05 373.1)">0.10</text>
<line x1="419.19" y1="334" x2="422.95" y2="334" class="tick"/>
<text x="415.05" y="338.1" text-anchor="end" class="ts" textLength="23.4" lengthAdjust="spacingAndGlyphs" transform="rotate(0.03 415.05 338.1)">0.15</text>
<text x="464.22" y="575.45" class="ts xls" textLength="29.8" lengthAdjust="spacingAndGlyphs" transform="rotate(0.03 464.22 575.45)">Time</text>
<text x="497.72" y="575.45" class="ts xls" textLength="45.4" lengthAdjust="spacingAndGlyphs" transform="rotate(0.03 497.72 575.45)">relative</text>
<text x="547.82" y="575.45" class="ts xls" textLength="11.4" lengthAdjust="spacingAndGlyphs" transform="rotate(0.03 547.82 575.45)">to</text>
<text x="563.32" y="575.45" class="ts xls" textLength="59" lengthAdjust="spacingAndGlyphs" transform="rotate(0.03 563.32 575.45)">treatment</text>
<text x="627.32" y="575.45" class="ts xls" textLength="14.9" lengthAdjust="spacingAndGlyphs" transform="rotate(0.03 627.32 575.45)">(k)</text>
<g transform="translate(373.85,445.6) rotate(-89.97)" class="yl"><text x="0" y="0" style="font-size:12.4px;font-style:italic" textLength="7.4" lengthAdjust="spacingAndGlyphs">β</text><text x="7.5" y="2.9" style="font-size:9.6px;font-style:italic">k</text></g>
<path d="M362.95,442.2 L360.85,440.7 L362.95,439.2" fill="none" stroke="#000" stroke-width="1.15"/>
<text x="461.52" y="305.1" class="title" textLength="16.1" lengthAdjust="spacingAndGlyphs" transform="rotate(0.03 461.52 305.1)">(d)</text>
<text x="482.22" y="305.1" class="title" textLength="26.1" lengthAdjust="spacingAndGlyphs" transform="rotate(0.03 482.22 305.1)">Local</text>
<text x="513.02" y="305.1" class="title" textLength="58.3" lengthAdjust="spacingAndGlyphs" transform="rotate(0.03 513.02 305.1)">projections:</text>
<text x="575.82" y="305.1" class="title" textLength="46.2" lengthAdjust="spacingAndGlyphs" transform="rotate(0.03 575.82 305.1)">Quantity</text>
<text x="626.32" y="305.1" class="title" textLength="18.4" lengthAdjust="spacingAndGlyphs" transform="rotate(0.03 626.32 305.1)">gap</text>
</svg>
</body></html>
